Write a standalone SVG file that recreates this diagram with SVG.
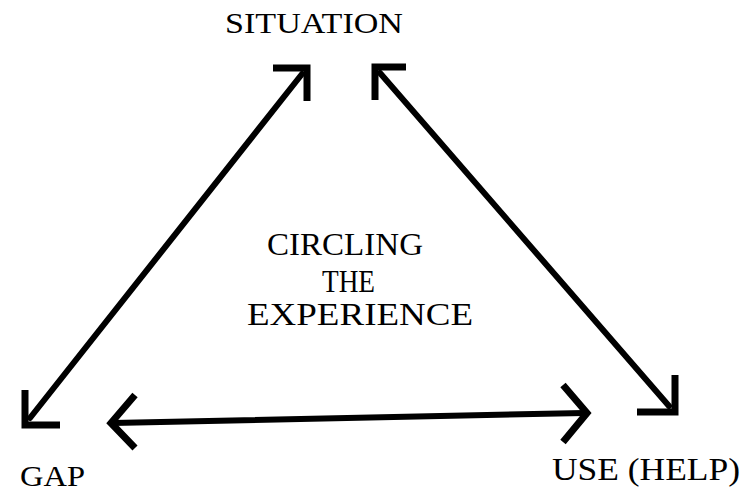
<svg xmlns="http://www.w3.org/2000/svg" width="749" height="495" viewBox="0 0 749 495">
<style>
.lbl{font-family:"Liberation Serif","Times New Roman",serif;fill:#000;}
.ln{stroke:#000;stroke-width:6;fill:none;stroke-linecap:round;stroke-linejoin:miter;}
.hd{stroke:#000;stroke-width:7;fill:none;stroke-linecap:butt;stroke-linejoin:miter;}
</style>
<rect width="749" height="495" fill="#fff"/>
<g id="situation"><text class="lbl" x="225" y="33" font-size="29" textLength="178" lengthAdjust="spacingAndGlyphs">SITUATION</text></g>
<g id="gap"><text class="lbl" x="20" y="486" font-size="29" textLength="65" lengthAdjust="spacingAndGlyphs">GAP</text></g>
<g id="use-help"><text class="lbl" x="552" y="480" font-size="31" textLength="188" lengthAdjust="spacingAndGlyphs">USE (HELP)</text></g>
<g id="center"><text class="lbl" font-size="31"><tspan x="267" y="255" textLength="156" lengthAdjust="spacingAndGlyphs">CIRCLING</tspan><tspan x="322" y="292" textLength="53" lengthAdjust="spacingAndGlyphs">THE</tspan><tspan x="247" y="325" textLength="226" lengthAdjust="spacingAndGlyphs">EXPERIENCE</tspan></text></g>
<g id="connectors">
<line class="ln" x1="302" y1="74" x2="30" y2="418"/>
<polyline class="hd" points="273,68 307,68 307,101"/>
<polyline class="hd" points="25,390 25,425 60,425"/>
<line class="ln" x1="380" y1="73" x2="669" y2="406"/>
<polyline class="hd" points="406,67 375,67 375,100"/>
<polyline class="hd" points="675,375 675,412 637,412"/>
<line class="ln" x1="113" y1="423" x2="584" y2="413"/>
<polyline class="hd" points="135,395 111,423 135,448"/>
<polyline class="hd" points="563,385 587,413 563,442"/>
</g>
</svg>
